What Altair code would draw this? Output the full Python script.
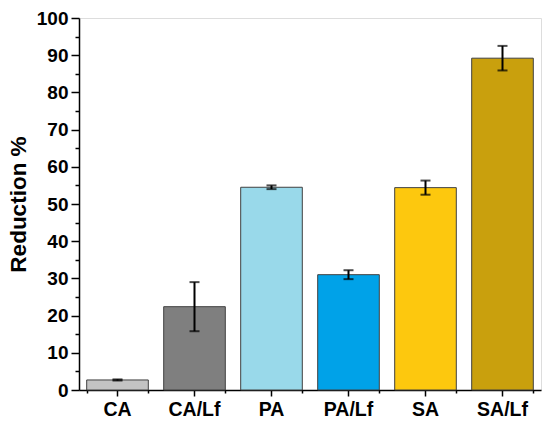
import altair as alt
import pandas as pd

categories = ["CA", "CA/Lf", "PA", "PA/Lf", "SA", "SA/Lf"]
values = [2.7, 22.4, 54.5, 31.0, 54.4, 89.2]
errors = [0.15, 6.6, 0.5, 1.2, 1.9, 3.3]
colors = ["#c3c3c3", "#7f7f7f", "#99d9ea", "#00a2e8", "#fdc80e", "#c9a00d"]
major_y = list(range(0, 101, 10))
minor_y = list(range(5, 100, 10))

df = pd.DataFrame({"cat": categories, "val": values, "err": errors})

FONT = "Liberation Sans"

xscale = alt.Scale(domain=categories, paddingInner=0.2, paddingOuter=0.1)
yscale = alt.Scale(domain=[0, 100], nice=False)

base = alt.Chart(df).transform_calculate(
    lo="datum.val - datum.err", hi="datum.val + datum.err"
)

bars = base.mark_bar(stroke="#404040", strokeWidth=1).encode(
    x=alt.X("cat:N", scale=xscale, sort=categories,
            axis=alt.Axis(title=None, orient="bottom", labelFont=FONT, labelFontSize=19.5,
                          labelFontWeight="bold", labelColor="black", labelAngle=0,
                          labelPadding=4, domainColor="black", domainWidth=1.5,
                          tickColor="black", tickWidth=1.5, tickSize=6, grid=False)),
    y=alt.Y("val:Q", scale=yscale,
            axis=alt.Axis(title="Reduction %", orient="left", values=major_y, titleFont=FONT,
                          titleFontSize=22.5, titleFontWeight="bold", titleColor="black",
                          titlePadding=6, labelFont=FONT, labelFontSize=19,
                          labelFontWeight="bold", labelColor="black", labelPadding=3,
                          domainColor="black", domainWidth=1.5, tickColor="black",
                          tickWidth=1.5, tickSize=8, grid=False)),
    color=alt.Color("cat:N", scale=alt.Scale(domain=categories, range=colors), legend=None),
)

# minor ticks layer (boundaries on x, 5s on y)
minor = base.mark_bar(opacity=0).encode(
    x=alt.X("cat:N", scale=xscale, sort=categories,
            axis=alt.Axis(title=None, orient="bottom", labels=False, domain=False,
                          tickBand="extent", tickColor="black", tickWidth=1.5, tickSize=3,
                          grid=False)),
    y=alt.Y("val:Q", scale=yscale,
            axis=alt.Axis(title=None, orient="left", values=minor_y, labels=False,
                          domain=False, tickColor="black", tickWidth=1.5, tickSize=4,
                          grid=False)),
)

rule = base.mark_rule(color="black", strokeWidth=2).encode(
    x=alt.X("cat:N", scale=xscale, sort=categories, axis=None),
    y=alt.Y("lo:Q", scale=yscale, axis=None),
    y2="hi:Q",
)
cap_lo = base.mark_tick(color="black", thickness=2, size=10, orient="horizontal").encode(
    x=alt.X("cat:N", scale=xscale, sort=categories, axis=None),
    y=alt.Y("lo:Q", scale=yscale, axis=None),
)
cap_hi = base.mark_tick(color="black", thickness=2, size=10, orient="horizontal").encode(
    x=alt.X("cat:N", scale=xscale, sort=categories, axis=None),
    y=alt.Y("hi:Q", scale=yscale, axis=None),
)

chart = alt.layer(bars, minor, rule, cap_lo, cap_hi).resolve_axis(
    x="independent", y="independent"
).properties(
    width=462, height=372,
    autosize=alt.AutoSizeParams(type="none"),
    padding={"left": 71, "top": 10, "right": 1, "bottom": 30},
).configure_view(stroke=None).configure(background="white")

chart.save("out.html", embed_options={"renderer": "svg", "actions": False})
